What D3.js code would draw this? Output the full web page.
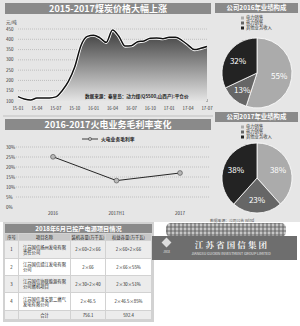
<!DOCTYPE html>
<html>
<head>
<meta charset="utf-8">
<script src="https://cdn.jsdelivr.net/npm/d3@7"></script>
<style>
  body { margin: 0; background: #fff; }
  svg { display: block; font-family: "Noto Sans CJK SC", "Noto Sans", sans-serif; }
</style>
</head>
<body>
<svg width="300" height="326"></svg>
<script>
// ---- data ----
const priceLabels = ['15-01', '15-04', '15-07', '15-10', '16-01', '16-04', '16-07', '16-10', '17-01', '17-04', '17-07'];
const priceValues = [121, 110, 105, 114, 115, 115, 120, 150, 195, 265, 370, 414, 420, 407, 385, 445,
    415, 367, 369, 388, 392, 405, 406, 403, 410, 410, 395, 372, 350, 356, 365];
const priceTicks = [100, 150, 200, 250, 300, 350, 400, 450];

const marginCats = ['2016', '2017H1', '2017'];
const marginValues = [25.1, 13.2, 17.0];
const marginTicks = [0, 5, 10, 15, 20, 25, 30];

const pieNames = ['电力销售', '热力销售', '其他业务收入'];
const pie2016 = [55, 13, 32];
const pie2017 = [38.4, 23.2, 38.4];

const tableHead = ['序号', '项目名称', '装机容量(万千瓦)', '权益容量(万千瓦)'];
const tableRows = [
    ['1', '江苏国信扬州发电有限\n责任公司', '2×60+2×66', '2×60+2×66'],
    ['2', '江苏国信靖江发电有限\n公司', '2×66', '2×66×55%'],
    ['3', '江苏国信协联能源有限\n公司燃机项目', '2×30+2×40', '2×30×51%'],
    ['4', '江苏国信淮安第二燃气\n发电有限公司', '2×46.5', '2×46.5×85%'],
    ['', '合计', '756.1', '592.4']
];

const svg = d3.select('svg');
const bg = '#e6e6e6';
const barFill = '#8a8a8a';

svg.append('rect').attr('width', 300).attr('height', 326).attr('fill', '#fff');
svg.append('rect').attr('x', 0).attr('y', 0).attr('width', 300).attr('height', 222).attr('fill', bg);

function titleBar(x, y, w, h, text, size) {
    svg.append('rect').attr('x', x).attr('y', y).attr('width', w).attr('height', h).attr('fill', barFill);
    svg.append('text').text(text)
        .attr('x', x + w / 2).attr('y', y + h / 2 + size * 0.36)
        .style('text-anchor', 'middle').style('font-size', size + 'px')
        .style('font-weight', 'bold').attr('fill', '#fff');
}

// ---- top: coal price ----
titleBar(5, 3, 206, 11, '2015-2017煤炭价格大幅上涨', 9);

const px = d3.scaleLinear().domain([0, priceValues.length - 1]).range([18, 207]);
const py = d3.scaleLinear().domain([100, 450]).range([101, 29]);

svg.append('text').text('元/吨').attr('x', 6).attr('y', 24).style('font-size', '4.5px').attr('fill', '#333');
svg.append('g').selectAll('line').data(priceTicks.slice(1)).join('line')
    .attr('x1', 18).attr('x2', 207).attr('y1', d => py(d)).attr('y2', d => py(d))
    .attr('stroke', '#999').attr('stroke-width', 0.5).attr('stroke-dasharray', '1,1');
svg.append('g').selectAll('text').data(priceTicks).join('text')
    .text(d => d).attr('x', 6).attr('y', d => py(d) + 1.6)
    .style('font-size', '4.5px').attr('fill', '#333');
svg.append('g').selectAll('text').data(priceLabels).join('text')
    .text(d => d).attr('x', (d, i) => px(i * 3)).attr('y', 110)
    .style('text-anchor', 'middle').style('font-size', '4.3px').attr('fill', '#333');
svg.append('line').attr('x1', 207).attr('x2', 207).attr('y1', 99).attr('y2', 102)
    .attr('stroke', '#333').attr('stroke-width', 0.6);

const grad = svg.append('defs').append('linearGradient').attr('id', 'pg')
    .attr('x1', 0).attr('y1', 0).attr('x2', 0).attr('y2', 1);
grad.append('stop').attr('offset', '0%').attr('stop-color', '#3c3c3c');
grad.append('stop').attr('offset', '100%').attr('stop-color', '#e4e4e4');

svg.append('path').datum(priceValues)
    .attr('d', d3.area().x((d, i) => px(i)).y0(py(100)).y1(d => py(d)).curve(d3.curveMonotoneX))
    .attr('fill', 'url(#pg)');
const pline = d3.line().x((d, i) => px(i)).y(d => py(d)).curve(d3.curveMonotoneX);
svg.append('path').datum(priceValues).attr('d', pline)
    .attr('fill', 'none').attr('stroke', '#fff').attr('stroke-width', 3.2);
svg.append('path').datum(priceValues).attr('d', pline)
    .attr('fill', 'none').attr('stroke', '#111').attr('stroke-width', 1.5);
svg.append('text').text('数据来源：秦皇岛：动力煤(Q5500,山西产):平仓价')
    .attr('x', 85).attr('y', 98).style('font-size', '4.6px').style('font-weight', 'bold').attr('fill', '#222');

// ---- middle: gross margin ----
svg.append('line').attr('x1', 3).attr('x2', 213).attr('y1', 116).attr('y2', 116)
    .attr('stroke', '#aaa').attr('stroke-width', 0.6);
titleBar(5, 119, 206, 11, '2016-2017火电业务毛利率变化', 9);

const mx = d3.scalePoint().domain(marginCats).range([53, 180]);
const my = d3.scaleLinear().domain([0, 30]).range([207, 147]);

svg.append('g').selectAll('line').data(marginTicks.slice(1)).join('line')
    .attr('x1', 16).attr('x2', 210).attr('y1', d => my(d)).attr('y2', d => my(d))
    .attr('stroke', '#999').attr('stroke-width', 0.5).attr('stroke-dasharray', '1,1');
svg.append('g').selectAll('text').data(marginTicks).join('text')
    .text(d => d + '%').attr('x', 6).attr('y', d => my(d) + 1.6)
    .style('font-size', '4.5px').attr('fill', '#333');
svg.append('g').selectAll('text').data(marginCats).join('text')
    .text(d => d).attr('x', d => mx(d)).attr('y', 215)
    .style('text-anchor', 'middle').style('font-size', '4.5px').attr('fill', '#333');

svg.append('line').attr('x1', 82).attr('x2', 98).attr('y1', 139).attr('y2', 139).attr('stroke', '#111').attr('stroke-width', 0.8);
svg.append('circle').attr('cx', 90).attr('cy', 139).attr('r', 1.6).attr('fill', '#bbb').attr('stroke', '#333').attr('stroke-width', 0.5);
svg.append('text').text('火电业务毛利率').attr('x', 101).attr('y', 140.6)
    .style('font-size', '4.8px').style('font-weight', 'bold').attr('fill', '#222');

svg.append('path').datum(marginValues)
    .attr('d', d3.line().x((d, i) => mx(marginCats[i])).y(d => my(d)))
    .attr('fill', 'none').attr('stroke', '#111').attr('stroke-width', 0.9);
svg.append('g').selectAll('circle').data(marginValues).join('circle')
    .attr('cx', (d, i) => mx(marginCats[i])).attr('cy', d => my(d)).attr('r', 2.4)
    .attr('fill', '#b8b8b8').attr('stroke', '#444').attr('stroke-width', 0.6);

// ---- right: pies ----
const pieColors = ['#ababab', '#666666', '#232323'];
function drawPie(values, title, top, cy) {
    titleBar(215, top, 83, 10, title, 6.4);
    const lg = svg.append('g');
    pieNames.forEach((n, i) => {
        lg.append('rect').attr('x', 241).attr('y', top + 13.5 + i * 5).attr('width', 3).attr('height', 3).attr('fill', pieColors[i]);
        lg.append('text').text(n).attr('x', 246).attr('y', top + 16.3 + i * 5)
            .style('font-size', '4.3px').attr('fill', '#333');
    });
    const arcs = d3.pie().sort(null)(values);
    const arc = d3.arc().innerRadius(0).outerRadius(35);
    const lab = d3.arc().innerRadius(10).outerRadius(35);
    const g = svg.append('g').attr('transform', `translate(257, ${cy})`);
    g.selectAll('path').data(arcs).join('path')
        .attr('d', arc).attr('fill', (d, i) => pieColors[i]).attr('stroke', '#fff').attr('stroke-width', 0.8);
    g.selectAll('text').data(arcs).join('text')
        .text(d => Math.round(d.data) + '%')
        .attr('transform', d => `translate(${lab.centroid(d)})`)
        .attr('dy', '0.35em').style('text-anchor', 'middle')
        .style('font-size', '8px').attr('fill', '#fff');
}
drawPie(pie2016, '公司2016年业绩构成', 3, 73);
drawPie(pie2017, '公司2017年业绩构成', 112, 178);
svg.append('text').text('数据来源：公司公告  Wind').attr('x', 210).attr('y', 222)
    .style('font-size', '3.8px').attr('fill', '#555');

// ---- bottom-left: table ----
svg.append('rect').attr('x', 3).attr('y', 222).attr('width', 151).attr('height', 100).attr('fill', '#d2d2d2');
titleBar(5, 224, 147, 9, '2018年6月已投产电源项目情况', 6.2);
const colX = [5, 19, 71, 106, 152];
const rowY = [234, 241, 259, 276, 293, 311, 320];
const rowFill = ['#c8c8c8', '#ececec', '#ffffff', '#ececec', '#ffffff', '#ececec'];
const allRows = [tableHead].concat(tableRows);
allRows.forEach((row, r) => {
    row.forEach((cell, c) => {
        const x0 = colX[c], x1 = colX[c + 1] - 1, y0 = rowY[r], y1 = rowY[r + 1] - 1;
        svg.append('rect').attr('x', x0).attr('y', y0).attr('width', x1 - x0).attr('height', y1 - y0)
            .attr('fill', rowFill[r]);
        const lines = cell.split('\n');
        const cx = c === 1 && r > 0 && r < 5 ? x0 + 4 : (x0 + x1) / 2;
        lines.forEach((l, k) => {
            svg.append('text').text(l)
                .attr('x', cx).attr('y', (y0 + y1) / 2 + 1.5 + (k - (lines.length - 1) / 2) * 5)
                .style('text-anchor', c === 1 && r > 0 && r < 5 ? 'start' : 'middle')
                .style('font-size', '4.3px').attr('fill', '#222');
        });
    });
});

// ---- bottom-right: company sign ----
const defs = svg.select('defs');
const pat = defs.append('pattern').attr('id', 'hedge').attr('width', 4).attr('height', 4).attr('patternUnits', 'userSpaceOnUse');
pat.append('rect').attr('width', 4).attr('height', 4).attr('fill', '#9a9a9a');
pat.append('circle').attr('cx', 1).attr('cy', 1).attr('r', 0.9).attr('fill', '#dcdcdc');
pat.append('circle').attr('cx', 3).attr('cy', 3).attr('r', 0.8).attr('fill', '#555');
pat.append('circle').attr('cx', 3).attr('cy', 1).attr('r', 0.5).attr('fill', '#777');
svg.append('rect').attr('x', 166).attr('y', 223).attr('width', 120).attr('height', 14).attr('rx', 5).attr('fill', 'url(#hedge)');
svg.append('rect').attr('x', 152).attr('y', 236).attr('width', 145).attr('height', 24).attr('fill', '#6e6e6e');
svg.append('rect').attr('x', 163).attr('y', 239).attr('width', 7).attr('height', 7)
    .attr('transform', 'rotate(45, 166.5, 242.5)').attr('fill', '#ddd');
svg.append('text').text('JSGX').attr('x', 166.5).attr('y', 253).style('text-anchor', 'middle')
    .style('font-size', '2.8px').attr('fill', '#eee');
svg.append('text').text('江 苏 省 国 信 集 团').attr('x', 231).attr('y', 247.5).style('text-anchor', 'middle')
    .style('font-size', '8.5px').style('font-family', '"Noto Serif CJK SC", "Noto Sans CJK SC"')
    .style('font-weight', 'bold').attr('fill', '#f2f2f2');
svg.append('text').text('JIANGSU GUOXIN INVESTMENT GROUP LIMITED').attr('x', 231).attr('y', 254.5)
    .style('text-anchor', 'middle').style('font-size', '3.6px').attr('fill', '#e8e8e8');
</script>
</body>
</html>
